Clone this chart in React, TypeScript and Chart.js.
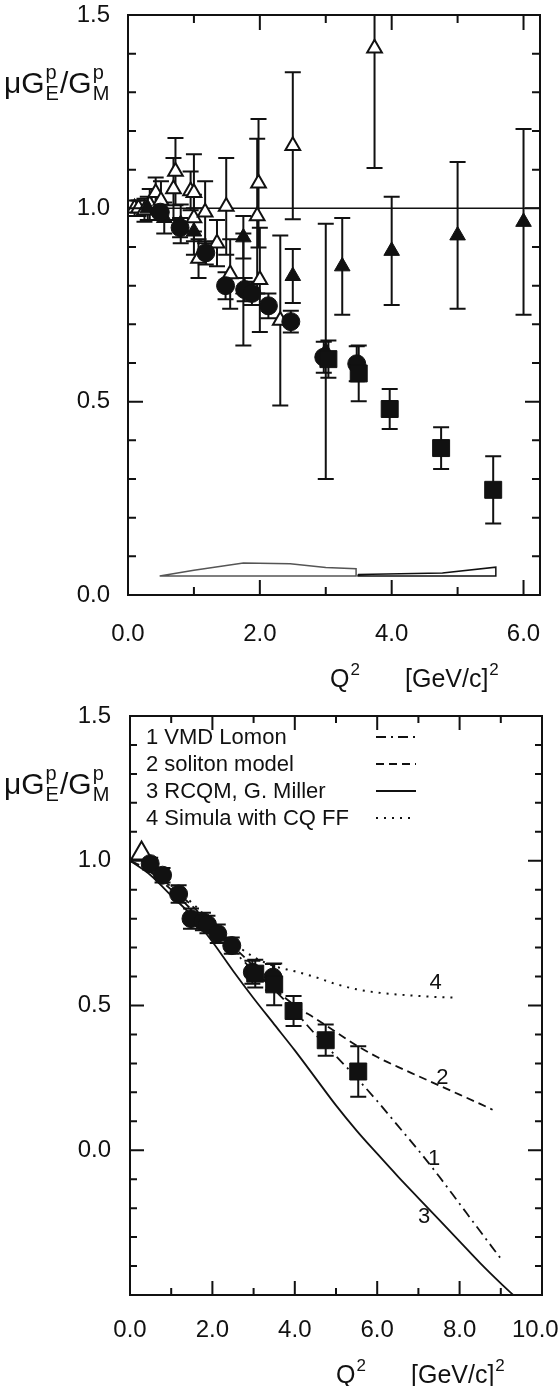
import React, { useEffect, useRef } from 'react';
import { Chart, registerables } from 'chart.js';

Chart.register(...registerables);

const FONT = '"Liberation Sans", Arial, Helvetica, sans-serif';
const INK = '#111111';

// ---------------- Top panel data ----------------
// open triangles (Rosenbluth world data)
const rosenQ2 = [0.10, 0.16, 0.25, 0.33, 0.42, 0.50, 0.69, 0.72, 0.95, 1.00, 1.00, 1.07, 1.17, 1.35, 1.49, 1.55, 1.96, 1.98, 2.00, 2.31, 2.50, 3.74];
const rosenRatio = [1.00, 1.00, 0.995, 1.01, 1.04, 1.02, 1.05, 1.095, 1.045, 1.04, 0.975, 0.87, 0.99, 0.91, 1.005, 0.83, 0.98, 1.065, 0.815, 0.71, 1.162, 1.414];
const rosenErr = [0.02, 0.02, 0.03, 0.04, 0.04, 0.05, 0.08, 0.087, 0.05, 0.10, 0.06, 0.05, 0.08, 0.06, 0.125, 0.09, 0.20, 0.166, 0.135, 0.22, 0.19, 0.31];

// filled triangles
const slacQ2 = [0.30, 0.55, 0.80, 1.00, 1.75, 1.75, 2.50, 3.00, 3.25, 4.00, 5.00, 6.00];
const slacRatio = [1.00, 0.975, 0.96, 0.94, 0.925, 0.79, 0.825, 0.63, 0.85, 0.89, 0.93, 0.965];
const slacErr = [0.03, 0.04, 0.05, 0.06, 0.055, 0.145, 0.07, 0.33, 0.125, 0.14, 0.19, 0.24];

// filled circles (polarization transfer)
const jlabQ2 = [0.49, 0.79, 1.18, 1.48, 1.77, 1.88, 2.13, 2.47, 2.97, 3.47];
const jlabRatio = [0.99, 0.95, 0.885, 0.80, 0.79, 0.78, 0.748, 0.707, 0.615, 0.598];
const jlabErr = [0.02, 0.025, 0.03, 0.035, 0.03, 0.03, 0.032, 0.028, 0.04, 0.045];

// filled squares
const gayouQ2 = [3.04, 3.50, 3.97, 4.75, 5.54];
const gayouRatio = [0.61, 0.573, 0.481, 0.38, 0.272];
const gayouErr = [0.048, 0.072, 0.052, 0.054, 0.087];

// systematic error bands
const sys1Q2 = [0.48, 1.00, 1.75, 2.46, 3.00, 3.46];
const sys1Top = [0.049, 0.064, 0.083, 0.081, 0.071, 0.068];
const sys2Q2 = [3.49, 4.77, 5.58];
const sys2Top = [0.053, 0.057, 0.072];
const sysBase = 0.049;

const unityQ2 = [0, 6.25];
const unityRatio = [1, 1];

// ---------------- Bottom panel data ----------------
const lowTriQ2 = [0.28];
const lowTriRatio = [1.025];

const vmdQ2 = [0, 0.5, 1, 1.5, 2, 2.5, 3, 3.5, 4, 4.5, 5, 5.5, 6, 6.5, 7, 7.5, 8, 8.5, 9.03];
const vmdRatio = [1.0, 0.96, 0.90, 0.83, 0.76, 0.69, 0.62, 0.555, 0.48, 0.40, 0.325, 0.25, 0.17, 0.085, 0.0, -0.09, -0.185, -0.28, -0.38];

const solitonQ2 = [0, 0.5, 1, 1.5, 2, 2.5, 3, 3.5, 4, 4.5, 5, 5.5, 6, 6.5, 7, 7.5, 8, 8.5, 8.8];
const solitonRatio = [1.0, 0.965, 0.91, 0.845, 0.775, 0.705, 0.635, 0.56, 0.5, 0.455, 0.408, 0.362, 0.322, 0.288, 0.256, 0.224, 0.192, 0.16, 0.14];

const rcqmQ2 = [0, 0.5, 1, 1.5, 2, 2.5, 3, 3.5, 4, 4.5, 5, 5.5, 6, 6.5, 7, 7.5, 8, 8.5, 9, 9.3];
const rcqmRatio = [1.0, 0.95, 0.88, 0.81, 0.72, 0.62, 0.525, 0.435, 0.345, 0.25, 0.155, 0.068, -0.012, -0.09, -0.165, -0.24, -0.315, -0.39, -0.46, -0.5];

const simulaQ2 = [0, 0.5, 1, 1.5, 2, 2.5, 3, 3.5, 4, 4.5, 5, 5.5, 6, 6.5, 7, 7.5, 7.9];
const simulaRatio = [1.0, 0.965, 0.915, 0.855, 0.785, 0.718, 0.668, 0.636, 0.618, 0.598, 0.574, 0.556, 0.545, 0.538, 0.533, 0.529, 0.527];

const legendRows = ['1 VMD Lomon', '2 soliton model', '3 RCQM, G. Miller', '4 Simula with CQ FF'];
const curveTags = ['1', '2', '3', '4'];
const curveTagQ2 = [7.38, 7.58, 7.14, 7.42];
const curveTagRatio = [-0.03, 0.25, -0.232, 0.578];

// ---------------- Axis ticks ----------------
const topXTicks = [0, 2, 4, 6];
const topXMinor = [1, 3, 5];
const topYTicks = [0, 0.5, 1.0, 1.5];
const topYMinor = [0.1, 0.2, 0.3, 0.4, 0.6, 0.7, 0.8, 0.9, 1.1, 1.2, 1.3, 1.4];

const botXTicks = [0, 2, 4, 6, 8, 10];
const botXMinor = [1, 3, 5, 7, 9];
const botYTicks = [0, 0.5, 1.0, 1.5];
const botYMajorMarks = [0, 0.5, 1.0];
const botYMinor = [-0.4, -0.3, -0.2, -0.1, 0.1, 0.2, 0.3, 0.4, 0.6, 0.7, 0.8, 0.9, 1.1, 1.2, 1.3, 1.4];

// ---------------- helpers ----------------
const pts = (xs: number[], ys: number[]) => xs.map((x, i) => ({ x, y: ys[i] }));
const polygon = (xs: number[], top: number[], base: number) => [
  ...pts(xs, top),
  { x: xs[xs.length - 1], y: base },
  { x: xs[0], y: base },
  { x: xs[0], y: top[0] },
];

function markers(label: string, xs: number[], ys: number[], errs: number[] | null, style: string, radius: number, filled: boolean) {
  return {
    label,
    data: pts(xs, ys),
    errors: errs,
    showLine: false,
    pointStyle: style,
    pointRadius: radius,
    pointHoverRadius: radius,
    pointBackgroundColor: filled ? INK : '#ffffff',
    pointBorderColor: INK,
    pointBorderWidth: filled ? 1 : 2,
    backgroundColor: filled ? INK : '#ffffff',
    borderColor: INK,
    order: 1,
  };
}

function curve(label: string, data: { x: number; y: number }[], dash: number[], width: number, color = INK, smooth = false) {
  return {
    label,
    data,
    showLine: true,
    pointRadius: 0,
    pointHoverRadius: 0,
    borderColor: color,
    backgroundColor: color,
    borderWidth: width,
    borderDash: dash,
    tension: 0,
    cubicInterpolationMode: smooth ? 'monotone' : 'default',
    fill: false,
    order: 5,
  };
}

const errorBars = {
  id: 'errorBars',
  beforeDatasetsDraw(chart: any) {
    const { ctx, chartArea: a, scales } = chart;
    const xs = scales.x, ys = scales.y;
    ctx.save();
    ctx.beginPath();
    ctx.rect(a.left, a.top, a.right - a.left, a.bottom - a.top);
    ctx.clip();
    ctx.strokeStyle = INK;
    ctx.lineWidth = 2;
    chart.data.datasets.forEach((ds: any) => {
      if (!ds.errors) return;
      ds.data.forEach((p: any, i: number) => {
        const e = ds.errors[i];
        if (!e) return;
        const px = xs.getPixelForValue(p.x);
        const y1 = ys.getPixelForValue(p.y + e);
        const y2 = ys.getPixelForValue(p.y - e);
        ctx.beginPath();
        ctx.moveTo(px, y1);
        ctx.lineTo(px, y2);
        ctx.moveTo(px - 8, y1);
        ctx.lineTo(px + 8, y1);
        ctx.moveTo(px - 8, y2);
        ctx.lineTo(px + 8, y2);
        ctx.stroke();
      });
    });
    ctx.restore();
  },
};

function frameTicks(xMajor: number[], xMinor: number[], yMajor: number[], yMinor: number[], majLen: number, minLen: number) {
  return {
    id: 'frameTicks',
    afterDatasetsDraw(chart: any) {
      const { ctx, chartArea: a, scales } = chart;
      const xs = scales.x, ys = scales.y;
      ctx.save();
      ctx.strokeStyle = INK;
      ctx.lineWidth = 2;
      ctx.strokeRect(a.left, a.top, a.right - a.left, a.bottom - a.top);
      ctx.beginPath();
      const vx = (v: number, len: number) => {
        const p = xs.getPixelForValue(v);
        ctx.moveTo(p, a.bottom);
        ctx.lineTo(p, a.bottom - len);
        ctx.moveTo(p, a.top);
        ctx.lineTo(p, a.top + len);
      };
      const vy = (v: number, len: number) => {
        const p = ys.getPixelForValue(v);
        ctx.moveTo(a.left, p);
        ctx.lineTo(a.left + len, p);
        ctx.moveTo(a.right, p);
        ctx.lineTo(a.right - len, p);
      };
      xMajor.forEach((v) => vx(v, majLen));
      xMinor.forEach((v) => vx(v, minLen));
      yMajor.forEach((v) => vy(v, majLen));
      yMinor.forEach((v) => vy(v, minLen));
      ctx.stroke();
      ctx.restore();
    },
  };
}

function drawRatioLabel(ctx: CanvasRenderingContext2D, x: number, base: number) {
  const big = `30px ${FONT}`;
  const small = `20px ${FONT}`;
  ctx.fillStyle = INK;
  ctx.textAlign = 'left';
  ctx.textBaseline = 'alphabetic';
  ctx.font = big;
  ctx.fillText('\u03bcG', x, base);
  let cx = x + ctx.measureText('\u03bcG').width + 1;
  ctx.font = small;
  ctx.fillText('p', cx, base - 14);
  ctx.fillText('E', cx, base + 7);
  cx += Math.max(ctx.measureText('p').width, ctx.measureText('E').width) + 1;
  ctx.font = big;
  ctx.fillText('/G', cx, base);
  cx += ctx.measureText('/G').width + 1;
  ctx.font = small;
  ctx.fillText('p', cx, base - 14);
  ctx.fillText('M', cx, base + 7);
}

function drawQ2Title(ctx: CanvasRenderingContext2D, x: number, base: number) {
  const big = `25px ${FONT}`;
  const small = `17px ${FONT}`;
  ctx.fillStyle = INK;
  ctx.textAlign = 'left';
  ctx.textBaseline = 'alphabetic';
  ctx.font = big;
  ctx.fillText('Q', x, base);
  let cx = x + ctx.measureText('Q').width + 1;
  ctx.font = small;
  ctx.fillText('2', cx, base - 12);
  cx = x + 75;
  ctx.font = big;
  ctx.fillText('[GeV/c]', cx, base);
  cx += ctx.measureText('[GeV/c]').width + 1;
  ctx.font = small;
  ctx.fillText('2', cx, base - 12);
}

function tickFont(size: number) {
  return { family: FONT, size };
}

function topConfig() {
  const decor = {
    id: 'decorTop',
    afterDraw(chart: any) {
      const ctx = chart.ctx;
      ctx.save();
      drawRatioLabel(ctx, 4, 93);
      drawQ2Title(ctx, 330, 687);
      ctx.restore();
    },
  };
  return {
    type: 'scatter',
    data: {
      datasets: [
        markers('Gayou', gayouQ2, gayouRatio, gayouErr, 'rect', 12, true),
        markers('Jones', jlabQ2, jlabRatio, jlabErr, 'circle', 9, true),
        markers('filled triangles', slacQ2, slacRatio, slacErr, 'triangle', 9, true),
        markers('Rosenbluth', rosenQ2, rosenRatio, rosenErr, 'triangle', 8.5, false),
        curve('unity', pts(unityQ2, unityRatio), [], 1.5),
        curve('sys1', polygon(sys1Q2, sys1Top, sysBase), [], 1.5, '#555555'),
        curve('sys2', polygon(sys2Q2, sys2Top, sysBase), [], 1.5, INK),
      ],
    },
    options: {
      responsive: false,
      animation: false,
      devicePixelRatio: 1,
      events: [],
      layout: { padding: { top: 15, right: 20, left: 0, bottom: 0 } },
      plugins: { legend: { display: false }, tooltip: { enabled: false } },
      scales: {
        x: {
          type: 'linear',
          min: 0,
          max: 6.25,
          grid: { display: false },
          border: { display: false },
          afterBuildTicks: (s: any) => { s.ticks = topXTicks.map((v) => ({ value: v })); },
          afterFit: (s: any) => { s.height = 105; s.paddingLeft = 0; s.paddingRight = 0; },
          ticks: { autoSkip: false, maxRotation: 0, padding: 17, color: INK, font: tickFont(24), callback: (v: number) => Number(v).toFixed(1) },
        },
        y: {
          type: 'linear',
          min: 0,
          max: 1.5,
          grid: { display: false },
          border: { display: false },
          afterBuildTicks: (s: any) => { s.ticks = topYTicks.map((v) => ({ value: v })); },
          afterFit: (s: any) => { s.width = 128; s.paddingTop = 0; s.paddingBottom = 0; },
          ticks: { padding: 10, color: INK, font: tickFont(24), callback: (v: number) => Number(v).toFixed(1) },
        },
      },
    },
    plugins: [errorBars, frameTicks(topXTicks, topXMinor, [0.5, 1.0], topYMinor, 15, 8), decor],
  };
}

function bottomConfig() {
  const dashes = [[10, 5, 2, 5], [8, 5], [], [2, 6]];
  const decor = {
    id: 'decorBottom',
    afterDraw(chart: any) {
      const { ctx, chartArea: a, scales } = chart;
      ctx.save();
      drawRatioLabel(ctx, 4, 94);
      drawQ2Title(ctx, 336, 683);
      ctx.font = `22px ${FONT}`;
      ctx.fillStyle = INK;
      ctx.textAlign = 'left';
      ctx.textBaseline = 'middle';
      legendRows.forEach((t, i) => {
        const y = a.top + 22 + i * 27;
        ctx.fillText(t, a.left + 16, y);
        ctx.beginPath();
        ctx.setLineDash(dashes[i]);
        ctx.lineWidth = i === 3 ? 2 : 1.8;
        ctx.strokeStyle = INK;
        ctx.moveTo(a.left + 246, y - 1);
        ctx.lineTo(a.left + 286, y - 1);
        ctx.stroke();
      });
      ctx.setLineDash([]);
      ctx.textAlign = 'center';
      curveTags.forEach((t, i) => {
        ctx.fillText(t, scales.x.getPixelForValue(curveTagQ2[i]), scales.y.getPixelForValue(curveTagRatio[i]));
      });
      ctx.restore();
    },
  };
  return {
    type: 'scatter',
    data: {
      datasets: [
        markers('Gayou', gayouQ2, gayouRatio, gayouErr, 'rect', 12, true),
        markers('Jones', jlabQ2, jlabRatio, jlabErr, 'circle', 9, true),
        markers('low Q2', lowTriQ2, lowTriRatio, null, 'triangle', 12, false),
        curve('1 VMD Lomon', pts(vmdQ2, vmdRatio), [10, 5, 2, 5], 1.8, INK, true),
        curve('2 soliton model', pts(solitonQ2, solitonRatio), [8, 5], 1.8, INK, true),
        curve('3 RCQM, G. Miller', pts(rcqmQ2, rcqmRatio), [], 1.8, INK, true),
        curve('4 Simula with CQ FF', pts(simulaQ2, simulaRatio), [2, 6], 2, INK, true),
      ],
    },
    options: {
      responsive: false,
      animation: false,
      devicePixelRatio: 1,
      events: [],
      layout: { padding: { top: 16, right: 18, left: 0, bottom: 0 } },
      plugins: { legend: { display: false }, tooltip: { enabled: false } },
      scales: {
        x: {
          type: 'linear',
          min: 0,
          max: 10,
          grid: { display: false },
          border: { display: false },
          afterBuildTicks: (s: any) => { s.ticks = botXTicks.map((v) => ({ value: v })); },
          afterFit: (s: any) => { s.height = 91; s.paddingLeft = 0; s.paddingRight = 0; },
          ticks: {
            autoSkip: false, maxRotation: 0, padding: 13, color: INK, font: tickFont(24),
            callback: (v: number) => (Number(v) === 10 ? Number(v).toFixed(1) + '  ' : Number(v).toFixed(1)),
          },
        },
        y: {
          type: 'linear',
          min: -0.5,
          max: 1.5,
          grid: { display: false },
          border: { display: false },
          afterBuildTicks: (s: any) => { s.ticks = botYTicks.map((v) => ({ value: v })); },
          afterFit: (s: any) => { s.width = 130; s.paddingTop = 0; s.paddingBottom = 0; },
          ticks: { padding: 11, color: INK, font: tickFont(24), callback: (v: number) => Number(v).toFixed(1) },
        },
      },
    },
    plugins: [errorBars, frameTicks([2, 4, 6, 8], botXMinor, botYMajorMarks, botYMinor, 14, 7), decor],
  };
}

export default function App() {
  const topRef = useRef<HTMLCanvasElement>(null);
  const botRef = useRef<HTMLCanvasElement>(null);
  useEffect(() => {
    const c1 = new Chart(topRef.current as HTMLCanvasElement, topConfig() as any);
    const c2 = new Chart(botRef.current as HTMLCanvasElement, bottomConfig() as any);
    return () => {
      c1.destroy();
      c2.destroy();
    };
  }, []);
  return (
    <div style={{ position: 'absolute', left: 0, top: 0, width: 560, height: 1386, background: '#ffffff' }}>
      <canvas ref={topRef} width={560} height={700} style={{ position: 'absolute', left: 0, top: 0, width: 560, height: 700 }} />
      <canvas ref={botRef} width={560} height={686} style={{ position: 'absolute', left: 0, top: 700, width: 560, height: 686 }} />
    </div>
  );
}
